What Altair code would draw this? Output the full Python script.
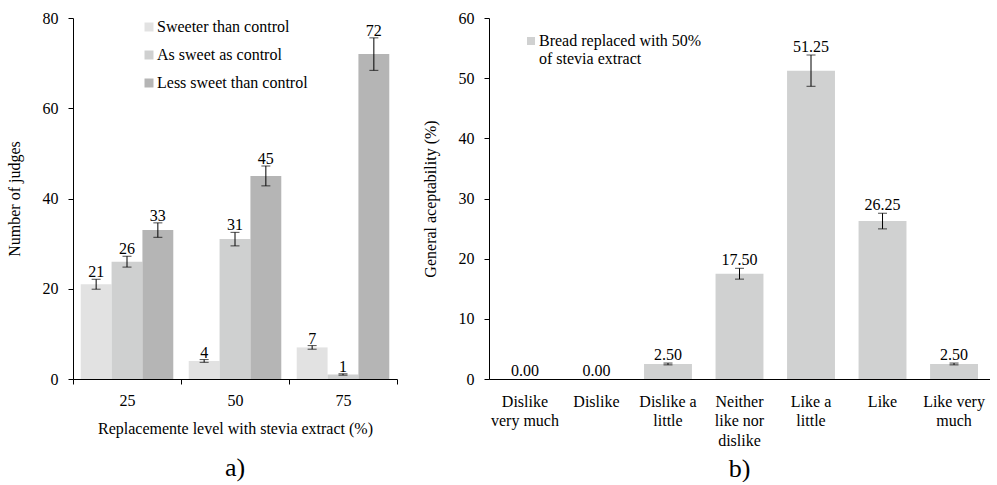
import altair as alt
import pandas as pd

FONT = "Liberation Serif"
FS = 16

# ---------- panel a data ----------
levels = ["25", "50", "75"]
groups = ["Sweeter than control", "As sweet as control", "Less sweet than control"]
sweeter = [21, 4, 7]
as_sweet = [26, 31, 1]
less_sweet = [33, 45, 72]
sweeter_err = [1.1, 0.3, 0.4]
as_sweet_err = [1.2, 1.5, 0.15]
less_sweet_err = [1.6, 2.2, 3.6]
colors_a = ["#e2e2e2", "#cfd0d0", "#b5b5b5"]

# ---------- panel b data ----------
categories = ["Dislike\nvery much", "Dislike", "Dislike a\nlittle", "Neither\nlike nor\ndislike",
              "Like a\nlittle", "Like", "Like very\nmuch"]
acceptability = [0.00, 0.00, 2.50, 17.50, 51.25, 26.25, 2.50]
acceptability_err = [0.0, 0.0, 0.15, 0.9, 2.6, 1.3, 0.15]
series_b = "Bread replaced with 50%\nof stevia extract"
color_b = "#d0d1d1"

rows = []
for i, lv in enumerate(levels):
    for g, vals, errs in zip(groups, [sweeter, as_sweet, less_sweet],
                             [sweeter_err, as_sweet_err, less_sweet_err]):
        rows.append(dict(level=lv, group=g, value=vals[i],
                         lo=vals[i] - errs[i], hi=vals[i] + errs[i]))
df_a = pd.DataFrame(rows)

df_b = pd.DataFrame(dict(cat=categories, value=acceptability, err=acceptability_err))
df_b["lo"] = df_b["value"] - df_b["err"]
df_b["hi"] = df_b["value"] + df_b["err"]
df_b["series"] = series_b

# ---------- panel a ----------
ya_title = "Number of judges"
xa = alt.X("level:N", sort=levels,
           scale=alt.Scale(paddingInner=0, paddingOuter=0),
           axis=alt.Axis(title="Replacemente level with stevia extract (%)", labelAngle=0,
                         tickBand="extent", tickSize=5, labelPadding=8, titlePadding=12))
xoa = alt.XOffset("group:N", sort=groups, scale=alt.Scale(paddingInner=0, paddingOuter=0.25))
ya_scale = alt.Scale(domain=[0, 80])
ya_axis = alt.Axis(values=[0, 20, 40, 60, 80], title=ya_title, grid=False, tickSize=5,
                   labelPadding=10, titlePadding=20)

base_a = alt.Chart(df_a)
bars_a = base_a.mark_bar().encode(
    x=xa, xOffset=xoa,
    y=alt.Y("value:Q", scale=ya_scale, axis=ya_axis, title=ya_title),
    color=alt.Color("group:N", sort=groups,
                    scale=alt.Scale(domain=groups, range=colors_a),
                    legend=alt.Legend(title=None, orient="none", legendX=68, legendY=1,
                                      symbolType="square", symbolSize=81, symbolStrokeWidth=0,
                                      labelFontSize=FS, labelFont=FONT, labelLimit=300,
                                      labelOffset=0, rowPadding=12, padding=0,
                                      labelColor="black")),
)
err_a = base_a.mark_rule(color="black", strokeWidth=1).encode(
    x=xa, xOffset=xoa, y=alt.Y("lo:Q", scale=ya_scale, title=ya_title), y2="hi:Q")
caplo_a = base_a.mark_tick(color="black", thickness=1).encode(
    x=xa, xOffset=xoa, y=alt.Y("lo:Q", scale=ya_scale, title=ya_title), size=alt.value(9))
caphi_a = base_a.mark_tick(color="black", thickness=1).encode(
    x=xa, xOffset=xoa, y=alt.Y("hi:Q", scale=ya_scale, title=ya_title), size=alt.value(9))
text_a = base_a.mark_text(dy=-7, fontSize=FS, font=FONT, color="black").encode(
    x=xa, xOffset=xoa, y=alt.Y("hi:Q", scale=ya_scale, title=ya_title), text="value:Q")

panel_a = alt.layer(bars_a, err_a, caplo_a, caphi_a, text_a).properties(
    width=324, height=361,
    title=alt.TitleParams("a)", orient="bottom", offset=19, fontSize=26, font=FONT,
                          fontWeight="normal", anchor="middle", frame="group", color="black"))

# ---------- panel b ----------
yb_title = "General aceptability (%)"
xb = alt.X("cat:N", sort=categories,
           scale=alt.Scale(paddingInner=0.33, paddingOuter=0.168),
           axis=alt.Axis(title=None, labelAngle=0, ticks=False, tickSize=0, labelPadding=14,
                         labelExpr="split(datum.label, '\\n')", labelLineHeight=19.5))
yb_scale = alt.Scale(domain=[0, 60])
yb_axis = alt.Axis(values=[0, 10, 20, 30, 40, 50, 60], title=yb_title, grid=False, tickSize=5,
                   labelPadding=10, titlePadding=20)

base_b = alt.Chart(df_b)
bars_b = base_b.mark_bar().encode(
    x=xb,
    y=alt.Y("value:Q", scale=yb_scale, axis=yb_axis, title=yb_title),
    color=alt.Color("series:N", scale=alt.Scale(domain=[series_b], range=[color_b]),
                    legend=alt.Legend(title=None, orient="none", legendX=34, legendY=15,
                                      symbolType="square", symbolSize=64, symbolStrokeWidth=0,
                                      labelFontSize=FS, labelFont=FONT, labelLimit=300,
                                      labelOffset=0,
                                      labelExpr="split(datum.label, '\\n')",
                                      padding=0, labelColor="black")),
)
err_src = base_b.transform_filter("datum.err > 0")
err_b = err_src.mark_rule(color="black", strokeWidth=1).encode(
    x=xb, y=alt.Y("lo:Q", scale=yb_scale, title=yb_title), y2="hi:Q")
caplo_b = err_src.mark_tick(color="black", thickness=1).encode(
    x=xb, y=alt.Y("lo:Q", scale=yb_scale, title=yb_title), size=alt.value(9))
caphi_b = err_src.mark_tick(color="black", thickness=1).encode(
    x=xb, y=alt.Y("hi:Q", scale=yb_scale, title=yb_title), size=alt.value(9))
text_b = base_b.mark_text(dy=-8, fontSize=FS, font=FONT, color="black").encode(
    x=xb, y=alt.Y("hi:Q", scale=yb_scale, title=yb_title), text=alt.Text("value:Q", format=".2f"))

panel_b = alt.layer(bars_b, err_b, caplo_b, caphi_b, text_b).properties(
    width=501, height=361,
    title=alt.TitleParams("b)", orient="bottom", offset=8, fontSize=26, font=FONT,
                          fontWeight="normal", anchor="middle", frame="group", color="black"))

chart = alt.hconcat(panel_a, panel_b, spacing=24).resolve_scale(color="independent").properties(
    padding={"left": 6, "top": 10, "right": 0, "bottom": 0}
).configure(font=FONT).configure_axis(
    labelFont=FONT, titleFont=FONT, labelFontSize=FS, titleFontSize=FS,
    labelColor="black", titleColor="black", domainColor="black", tickColor="black",
    titleFontWeight="normal", domainWidth=1, tickWidth=1
).configure_view(stroke=None)

chart.save("out.html", embed_options={"renderer": "svg", "actions": False})
